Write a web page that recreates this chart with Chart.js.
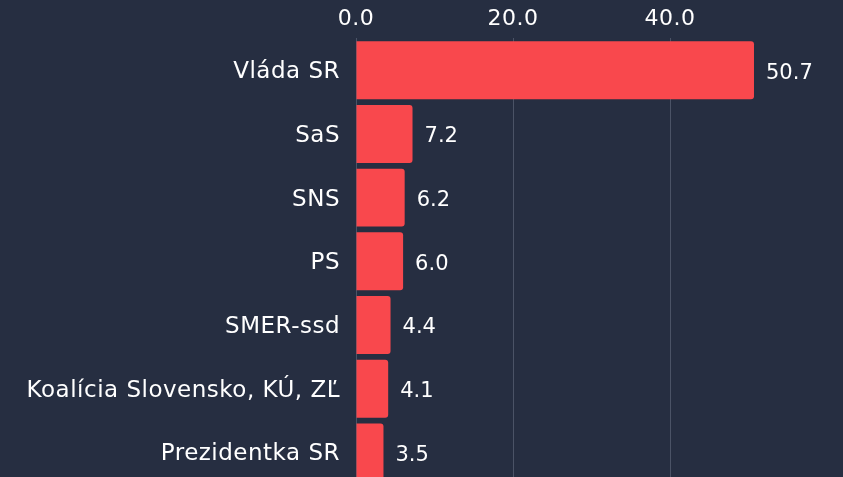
<!DOCTYPE html>
<html>
<head>
<meta charset="utf-8">
<script src="https://cdn.jsdelivr.net/npm/chart.js@4"></script>
<style>
  html, body { margin: 0; padding: 0; background: #262e41; overflow: hidden; }
  #wrap { width: 843px; height: 477px; overflow: hidden; }
  canvas { display: block; }
</style>
</head>
<body>
<div id="wrap"><canvas id="chart" width="843" height="514"></canvas></div>
<script>
// Dáta
const categories = ['Vláda SR', 'SaS', 'SNS', 'PS', 'SMER-ssd', 'Koalícia Slovensko, KÚ, ZĽ', 'Prezidentka SR'];
const values = [50.7, 7.2, 6.2, 6.0, 4.4, 4.1, 3.5];
const tickValues = [0, 20, 40];

const FONT = '"DejaVu Sans", sans-serif';

// širšie písmo pre osi (po resize sa stav kontextu resetuje, preto až pred kreslením)
const spacing = {
  id: 'spacing',
  beforeDraw(chart) {
    chart.ctx.letterSpacing = '0.5px';
  }
};

// popisky hodnôt vpravo od stĺpcov
const valueLabels = {
  id: 'valueLabels',
  afterDatasetsDraw(chart) {
    const ctx = chart.ctx;
    const meta = chart.getDatasetMeta(0);
    ctx.save();
    ctx.letterSpacing = '0px';
    ctx.font = '21px ' + FONT;
    ctx.fillStyle = '#ffffff';
    ctx.textAlign = 'left';
    ctx.textBaseline = 'middle';
    meta.data.forEach((bar, i) => {
      ctx.fillText(values[i].toFixed(1), bar.x + 12, bar.y + 3);
    });
    ctx.restore();
  }
};

new Chart(document.getElementById('chart'), {
  type: 'bar',
  data: {
    labels: categories,
    datasets: [{
      data: values,
      backgroundColor: '#f9484d',
      borderRadius: 3,
      categoryPercentage: 0.91,
      barPercentage: 1
    }]
  },
  options: {
    indexAxis: 'y',
    responsive: false,
    animation: false,
    layout: { padding: { top: 0, right: 16, left: 0, bottom: 0 } },
    plugins: {
      legend: { display: false },
      tooltip: { enabled: false }
    },
    scales: {
      x: {
        position: 'top',
        min: 0,
        max: 60,
        afterBuildTicks: (axis) => {
          axis.ticks = tickValues.map(v => ({ value: v }));
        },
        grid: { color: '#4b5366', drawTicks: false },
        border: { display: false },
        ticks: {
          color: '#ffffff',
          padding: 6,
          font: { size: 22, family: FONT },
          callback: (v) => Number(v).toFixed(1)
        }
      },
      y: {
        afterFit: (axis) => { axis.width = 356; },
        grid: { display: false, drawTicks: false },
        border: { display: true, color: '#4b5366' },
        ticks: {
          color: '#ffffff',
          padding: 16,
          labelOffset: 2,
          font: { size: 23, family: FONT }
        }
      }
    }
  },
  plugins: [spacing, valueLabels]
});
</script>
</body>
</html>
